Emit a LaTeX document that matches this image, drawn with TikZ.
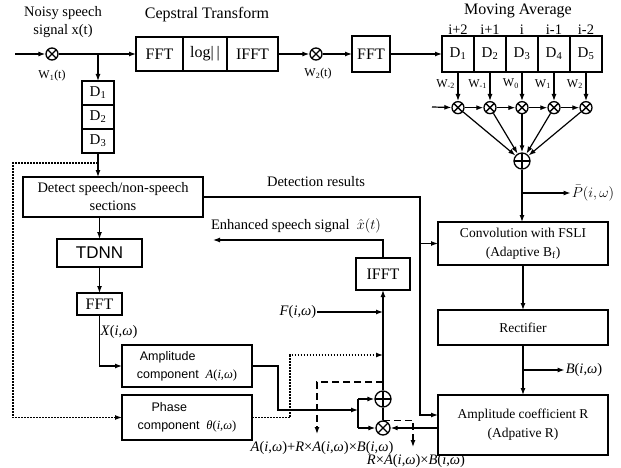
\documentclass[tikz,border=0pt]{standalone}
\usepackage{fontspec}
\setmainfont{Liberation Serif}
\newfontfamily\arialfont{Liberation Sans}
\usetikzlibrary{positioning,calc,arrows.meta}

\newcommand{\lblfont}{\fontsize{14.5}{18}\selectfont}
\newcommand{\inboxfont}{\fontsize{13.5}{19}\selectfont}
\newcommand{\blkfont}{\fontsize{16}{18}\selectfont}
\newcommand{\tapfont}{\fontsize{15}{16}\selectfont}
\newcommand{\wfont}{\fontsize{12}{13}\selectfont}
\newcommand{\sansbig}{\arialfont\fontsize{17}{18}\selectfont}
\newcommand{\sanslbl}{\arialfont\fontsize{12.5}{18}\selectfont}
\newcommand{\fn}[1]{{\rmfamily\textit{#1}(\textit{i},\textit{ω})}}

\begin{document}
\begin{tikzpicture}[x=1pt, y=-1pt,
    blk/.style={rectangle, draw, line width=1.4pt, outer sep=0pt, inner sep=1pt,
                align=center, font=\inboxfont},
    tapbox/.style={blk, minimum width=32pt, minimum height=24pt, font=\tapfont},
    mul/.style={circle, draw, line width=1.3pt, minimum size=12pt, inner sep=0pt,
                path picture={\draw[line width=1.3pt]
                  (path picture bounding box.north west) -- (path picture bounding box.south east)
                  (path picture bounding box.north east) -- (path picture bounding box.south west);}},
    add/.style={circle, draw, line width=1.3pt, minimum size=16pt, inner sep=0pt,
                path picture={\draw[line width=1.3pt]
                  (path picture bounding box.north) -- (path picture bounding box.south)
                  (path picture bounding box.west) -- (path picture bounding box.east);}},
    arrow/.style={-{Latex[length=7pt,width=5pt]}, line width=1.2pt},
    wire/.style={line width=1.2pt},
    dotline/.style={line width=1.4pt, dash pattern=on 1.6pt off 1.4pt},
    dashline/.style={line width=1.4pt, dash pattern=on 7pt off 4pt},
    lbl/.style={font=\lblfont, inner sep=1pt},
    wlbl/.style={font=\wfont, inner sep=1pt}
]
\useasboundingbox (0,0) rectangle (621,468);

% input and cepstral transform
\coordinate (sigin) at (15,54);
\node[mul] (w1) at (52,54) {};
\node[lbl, align=center] (noisy) at (63,22) {Noisy speech\\signal x(t)};
\node[wlbl] (w1lbl) at (52,76) {W\textsubscript{1}(t)};

\node[blk, minimum width=47pt, minimum height=34pt, font=\blkfont] (cfft) at (159.5,54) {FFT};
\node[blk, minimum width=44pt, minimum height=34pt, font=\blkfont, right=0pt of cfft] (clog) {log|\,|};
\node[blk, minimum width=51pt, minimum height=34pt, font=\blkfont, right=0pt of clog] (cifft) {IFFT};
\node[lbl, font=\fontsize{16}{17}\selectfont] (ceplbl) at (207,15) {Cepstral Transform};

\node[mul] (w2) at (316,54) {};
\node[wlbl] (w2lbl) at (318,74) {W\textsubscript{2}(t)};
\node[blk, minimum width=38pt, minimum height=36pt, font=\blkfont] (fft) at (371,54) {FFT};

% moving average
\node[tapbox, minimum height=36pt] (ma1) at (458,54) {D\textsubscript{1}};
\node[tapbox, minimum height=36pt, right=0pt of ma1] (ma2) {D\textsubscript{2}};
\node[tapbox, minimum height=36pt, right=0pt of ma2] (ma3) {D\textsubscript{3}};
\node[tapbox, minimum height=36pt, right=0pt of ma3] (ma4) {D\textsubscript{4}};
\node[tapbox, minimum height=36pt, right=0pt of ma4] (ma5) {D\textsubscript{5}};
\node[lbl, above=0pt of ma1] {i+2};
\node[lbl, above=0pt of ma2] {i+1};
\node[lbl, above=0pt of ma3] {i};
\node[lbl, above=0pt of ma4] {i-1};
\node[lbl, above=0pt of ma5] {i-2};
\node[lbl, font=\fontsize{16}{17}\selectfont] (malbl) at (518,11) {Moving Average};

\node[mul, below=29pt of ma1] (m1) {};
\node[mul, below=29pt of ma2] (m2) {};
\node[mul, below=29pt of ma3] (m3) {};
\node[mul, below=29pt of ma4] (m4) {};
\node[mul, below=29pt of ma5] (m5) {};
\node[wlbl, anchor=east] at ($(ma1.south)+(-2,12)$) {W\textsubscript{-2}};
\node[wlbl, anchor=east] at ($(ma2.south)+(-2,12)$) {W\textsubscript{-1}};
\node[wlbl, anchor=east] at ($(ma3.south)+(-2,12)$) {W\textsubscript{0}};
\node[wlbl, anchor=east] at ($(ma4.south)+(-2,12)$) {W\textsubscript{1}};
\node[wlbl, anchor=east] at ($(ma5.south)+(-2,12)$) {W\textsubscript{2}};
\node[add] (sum) at (522,161) {};
\coordinate (chin) at (432,107);

% right column
\node[blk, minimum width=170pt, minimum height=43pt] (conv) at (523,243.5) {Convolution with FSLI\\(Adaptive B\textsubscript{f})};
\node[blk, minimum width=170pt, minimum height=35pt] (rect) at (523,327.5) {Rectifier};
\node[blk, minimum width=170pt, minimum height=60pt] (ampr) at (523,425) {Amplitude coefficient R\\(Adpative R)};
\node[lbl] (pbar) at (593,193) {$\bar{P}(i,\omega)$};
\node[lbl] (blbl) at (584,370) {\fn{B}};

% left column
\node[tapbox] (d1) at (98,93) {D\textsubscript{1}};
\node[tapbox, below=0pt of d1] (d2) {D\textsubscript{2}};
\node[tapbox, below=0pt of d2] (d3) {D\textsubscript{3}};
\node[blk, minimum width=180pt, minimum height=40pt, font=\lblfont] (detect) at (113,197) {Detect speech/non-speech\\sections};
\node[blk, font=\sansbig, minimum width=85pt, minimum height=28pt] (tdnn) at (99.5,253) {TDNN};
\node[blk, font=\blkfont, minimum width=45pt, minimum height=22pt] (fftl) at (99.5,304) {FFT};
\node[lbl] (xlbl) at (119,332) {\fn{X}};
\node[blk, font=\sanslbl, minimum width=130pt, minimum height=42pt, align=left] (amp) at (187,366) {\hspace*{3pt}Amplitude\\component \ \fn{A}};
\node[blk, font=\sanslbl, minimum width=130pt, minimum height=45pt, align=left] (phase) at (187,417.5) {\hspace*{14pt}Phase\\component \ \fn{θ}};

% synthesis
\node[blk, font=\blkfont, minimum width=54pt, minimum height=32pt] (ifft) at (383,274) {IFFT};
\node[add] (adda) at (383,399) {};
\node[mul, minimum size=14pt] (mulr) at (383,428) {};
\node[lbl] (detres) at (316,182) {Detection results};
\node[lbl] (enh) at (296,226) {Enhanced speech signal \ $\hat{x}(t)$};
\node[lbl] (flbl) at (298,312) {\fn{F}};
\node[lbl] (sumout) at (322,448) {\fn{A}+\textit{R}×\fn{A}×\fn{B}};
\node[lbl] (mulout) at (416,461) {\textit{R}×\fn{A}×\fn{B}};

% connectors, top
\draw[arrow] (sigin) -- (w1);
\draw[arrow] (w1) -- (cfft);
\coordinate (tapd) at (98,54);
\draw[arrow] (tapd) -- (d1);
\draw[arrow] (cifft) -- (w2);
\draw[arrow] (w2) -- (fft);
\draw[arrow] (fft) -- (ma1);
\draw[arrow] (ma1) -- (m1);
\draw[arrow] (ma2) -- (m2);
\draw[arrow] (ma3) -- (m3);
\draw[arrow] (ma4) -- (m4);
\draw[arrow] (ma5) -- (m5);
\draw[arrow] (chin) -- (m1);
\draw[arrow] (m1) -- (m2);
\draw[arrow] (m2) -- (m3);
\draw[arrow] (m3) -- (m4);
\draw[arrow] (m4) -- (m5);
\draw[arrow] (m1) -- (sum);
\draw[arrow] (m2) -- (sum);
\draw[arrow] (m3) -- (sum);
\draw[arrow] (m4) -- (sum);
\draw[arrow] (m5) -- (sum);

% connectors, right
\draw[arrow] (sum) -- (sum |- conv.north);
\coordinate (pbr) at (522,193);
\draw[arrow] (pbr) -- (pbar);
\draw[arrow] (conv) -- (rect);
\draw[arrow] (rect) -- (ampr);
\coordinate (bbr) at (523,370);
\draw[arrow] (bbr) -- (blbl);

% connectors, left
\draw[arrow] (d3.south) -- (d3.south |- detect.north);
\coordinate (dtap) at (98,163);
\coordinate (dcorner) at (13,163);
\draw[dotline, arrow] (dtap) -- (dcorner) |- (phase.west);
\draw[arrow] (tdnn.north |- detect.south) -- (tdnn.north);
\draw[arrow] (tdnn) -- (fftl);
\draw[arrow] (fftl.south) |- (amp.west);
\coordinate (ajog) at (278,410);
\coordinate (split) at (358,410);
\draw[arrow] (amp.east) -| (ajog) -- (split);
\draw[wire] (split |- adda) -- (split |- mulr);
\draw[arrow] (split |- adda) -- (adda);
\draw[arrow] (split |- mulr) -- (mulr);
\coordinate (pjog) at (290,355);
\draw[dotline, arrow] (phase.east) -| (pjog) -- (pjog -| adda);

% connectors, synthesis
\draw[arrow] (adda) -- (ifft);
\draw[wire] (mulr) -- (adda);
\draw[arrow] (flbl) -- (flbl -| adda);
\coordinate (eout) at (213,240);
\draw[arrow] (ifft) |- (eout);
\coordinate (dtap2) at (383,382);
\coordinate (sumtap) at (317,434);
\draw[dashline, arrow] (dtap2) -| (sumtap);
\draw[arrow] ([yshift=-3pt]ampr.west) -- (mulr);
\coordinate (multap) at (413,447);
\draw[dashline, arrow] (mulr.north) -| (multap);
\coordinate (dcol) at (420,197);
\draw[arrow] (detect.east) -- (dcol) |- ([yshift=10pt]ampr.west);
\draw[arrow] (dcol |- conv.west) -- (conv.west);

\end{tikzpicture}
\end{document}
